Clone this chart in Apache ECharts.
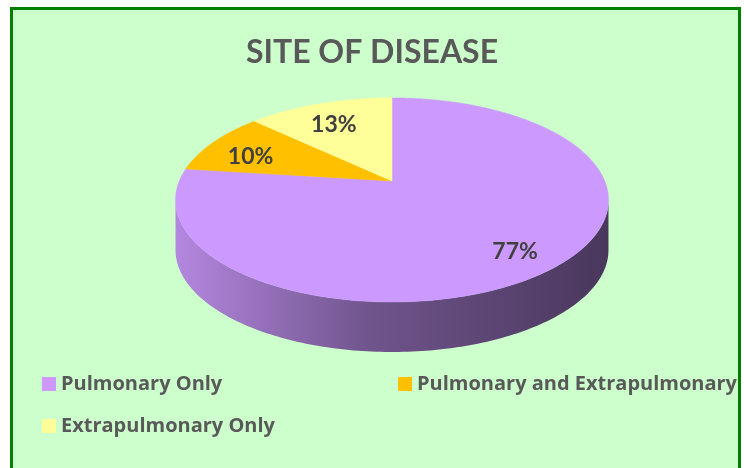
<!DOCTYPE html>
<html>
<head>
<meta charset="utf-8">
<script src="https://cdn.jsdelivr.net/npm/echarts@6/dist/echarts.min.js"></script>
<style>
  html, body { margin: 0; padding: 0; background: #ffffff; }
  #chart { width: 744px; height: 468px; }
</style>
</head>
<body>
<div id="chart"></div>
<script>
// data
const categories = ['Pulmonary Only', 'Pulmonary and Extrapulmonary', 'Extrapulmonary Only'];
const values = [77, 10, 13];
const sliceLabels = ['77%', '10%', '13%'];
const colors = ['#cc99ff', '#ffc000', '#ffff99'];

// 3d pie geometry (perspective ellipse)
const CX = 392, CY = 181;   // projected centre of the pie top
const A = 212.7, B = 98.5;  // half axes before perspective
const K = 0.186;            // perspective strength (far side shrinks)
const DEPTH = 50;
const LABEL_R = 0.78;

const total = values.reduce((s, v) => s + v, 0);

const proj = (r, t, dy) => {
    const u = r * Math.sin(t), v = r * Math.cos(t);
    const d = 1 + K * v;
    return [CX + A * u / d, CY - B * v / d + (dy || 0)];
};

const shade = (hex, f) => {
    const n = parseInt(hex.slice(1), 16);
    const c = [(n >> 16) & 255, (n >> 8) & 255, n & 255].map(x => Math.round(x * f));
    return 'rgb(' + c.join(',') + ')';
};

const arc = (a0, a1, dy) => {
    const pts = [];
    const steps = Math.max(2, Math.ceil((a1 - a0) / (Math.PI / 180)));
    for (let i = 0; i <= steps; i++) pts.push(proj(1, a0 + (a1 - a0) * i / steps, dy));
    return pts;
};

const makeRender = (idx) => (params, api) => {
    let start = 0;
    for (let i = 0; i < idx; i++) start += values[i];
    const a0 = start / total * Math.PI * 2;
    const a1 = (start + api.value(0)) / total * Math.PI * 2;
    const children = [];

    // front wall, only the part facing the viewer
    const lo = Math.acos(-K), hi = Math.PI * 2 - lo;
    const s = Math.max(a0, lo), e = Math.min(a1, hi);
    if (s < e) {
        const halfW = A / Math.sqrt(1 - K * K);
        const pts = arc(s, e, 0).concat(arc(s, e, DEPTH).reverse());
        children.push({
            type: 'polygon',
            z2: 1,
            shape: { points: pts },
            style: {
                fill: new echarts.graphic.LinearGradient(CX - halfW, 0, CX + halfW, 0, [
                    { offset: 0, color: shade(colors[idx], 0.88) },
                    { offset: 0.45, color: shade(colors[idx], 0.55) },
                    { offset: 1, color: shade(colors[idx], 0.36) }
                ], true)
            }
        });
    }

    // top face
    children.push({
        type: 'polygon',
        z2: 10,
        shape: { points: [[CX, CY]].concat(arc(a0, a1, 0)) },
        style: { fill: colors[idx], stroke: colors[idx], lineWidth: 0.5 }
    });

    // value label
    const p = proj(LABEL_R, (a0 + a1) / 2, 6);
    children.push({
        type: 'text',
        z2: 20,
        x: p[0],
        y: p[1],
        style: {
            text: sliceLabels[idx],
            fill: '#404040',
            fontSize: 23,
            fontWeight: 'bold',
            fontFamily: 'Lato',
            align: 'center',
            verticalAlign: 'middle'
        }
    });
    return { type: 'group', children: children };
};

const chart = echarts.init(document.getElementById('chart'), null, { renderer: 'canvas' });

const legendText = { fontSize: 20, fontWeight: 'bold', color: '#595959', fontFamily: 'Open Sans', lineHeight: 20 };
const legendBase = { icon: 'rect', itemWidth: 14, itemHeight: 14, itemGap: 6, padding: 0, textStyle: legendText };

chart.setOption({
    animation: false,
    graphic: [{
        type: 'rect',
        z: -10,
        shape: { x: 11.5, y: 8.5, width: 728, height: 500 },
        style: { fill: '#ccffcc', stroke: '#008000', lineWidth: 3 }
    }],
    title: {
        text: 'SITE OF DISEASE',
        left: 'center',
        top: 35,
        padding: 0,
        textStyle: { fontSize: 32, fontWeight: 'bold', color: '#595959', fontFamily: 'Lato', lineHeight: 36 }
    },
    legend: [
        Object.assign({ data: [categories[0]], left: 42, top: 374 }, legendBase),
        Object.assign({ data: [categories[1]], left: 398, top: 374 }, legendBase),
        Object.assign({ data: [categories[2]], left: 42, top: 416 }, legendBase)
    ],
    series: categories.map((name, i) => ({
        type: 'custom',
        name: name,
        coordinateSystem: 'none',
        itemStyle: { color: colors[i] },
        renderItem: makeRender(i),
        data: [[values[i]]]
    }))
});
</script>
</body>
</html>
